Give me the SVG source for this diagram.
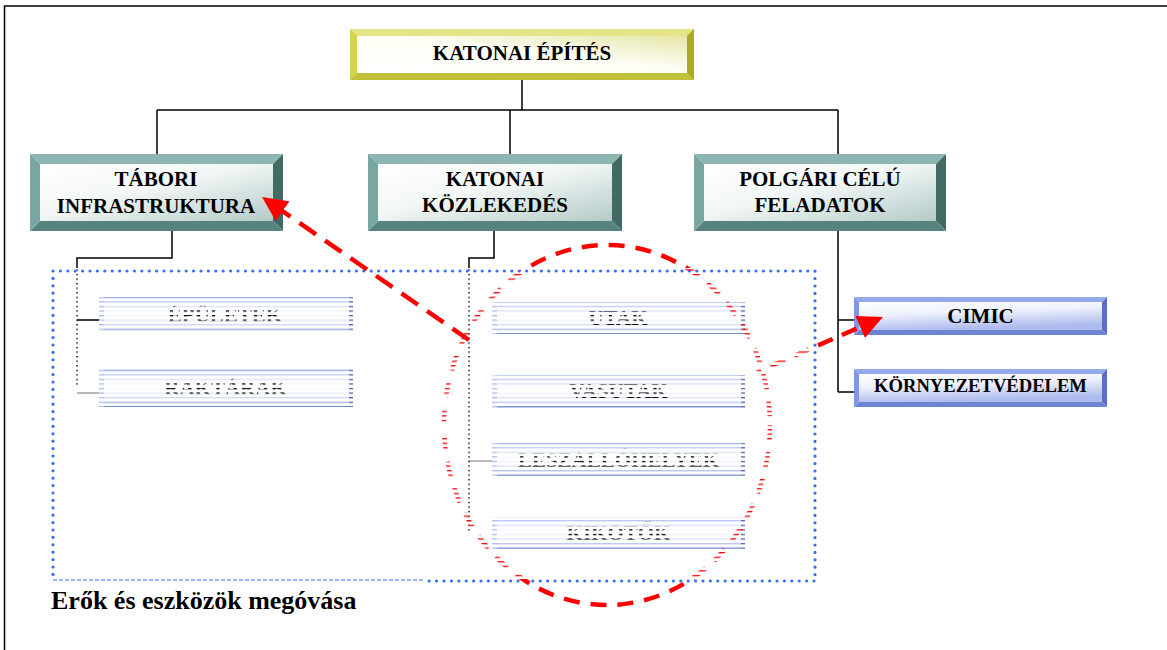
<svg xmlns="http://www.w3.org/2000/svg" width="1167" height="650" viewBox="0 0 1167 650">
  <defs>
    <style>
      .lbl{font-family:"Liberation Serif","Times New Roman",serif;font-weight:bold;font-size:21px;fill:#000;text-anchor:middle}
      .cap{font-family:"Liberation Serif","Times New Roman",serif;font-weight:bold;font-size:26px;fill:#000}
      .wire{stroke:#000;stroke-width:1.5;fill:none}
      .wire-g{stroke:#8a8a8a;stroke-width:1.2;fill:none}
      .y-top{fill:#e4e488}.y-left{fill:#d3d34e}.y-right{fill:#abab22}.y-bot{fill:#c2c23a}
      .t-top{fill:#8db5b1}.t-left{fill:#7aa6a1}.t-right{fill:#426b66}.t-bot{fill:#58827e}
      .b-top{fill:#93a9ec}.b-left{fill:#8098e2}.b-right{fill:#5a70c2}.b-bot{fill:#6c84d2}
      .redline{stroke:#ff0000;stroke-width:4.5;fill:none}
      .dots{stroke:#3b6cf3;stroke-width:3.2;stroke-linecap:round;stroke-dasharray:0 7.4;fill:none}
    </style>
    <linearGradient id="faceY" x1="0" y1="1" x2="1" y2="0">
      <stop offset="0" stop-color="#ffffff"/>
      <stop offset="0.55" stop-color="#fdfdf4"/>
      <stop offset="1" stop-color="#e6e6a8"/>
    </linearGradient>
    <linearGradient id="faceT" x1="0" y1="0" x2="1" y2="1">
      <stop offset="0" stop-color="#ffffff"/>
      <stop offset="0.45" stop-color="#f2f7f6"/>
      <stop offset="1" stop-color="#b3cbc8"/>
    </linearGradient>
    <linearGradient id="faceB" x1="0" y1="0" x2="0.3" y2="1">
      <stop offset="0" stop-color="#ffffff"/>
      <stop offset="0.45" stop-color="#eef1fc"/>
      <stop offset="1" stop-color="#aebbee"/>
    </linearGradient>
    <linearGradient id="rowFill" x1="0" y1="0" x2="0" y2="1">
      <stop offset="0" stop-color="#7696e0"/>
      <stop offset="0.12" stop-color="#b9c8f2"/>
      <stop offset="0.45" stop-color="#ffffff"/>
      <stop offset="0.8" stop-color="#c9d4f4"/>
      <stop offset="1" stop-color="#5875c6"/>
    </linearGradient>
    <!-- horizontal raster lines used for the lined panel area -->
    <pattern id="scan" patternUnits="userSpaceOnUse" x="0" y="296.7" width="1167" height="4.56">
      <rect x="0" y="0" width="1167" height="1.3" fill="#fff"/>
    </pattern>
    <mask id="lined" maskUnits="userSpaceOnUse" x="0" y="0" width="1167" height="650">
      <rect x="0" y="0" width="1167" height="650" fill="#fff"/>
      <rect x="53" y="268" width="762" height="311" fill="#000"/>
      <rect x="53" y="268" width="762" height="311" fill="url(#scan)"/>
    </mask>
    <marker id="head" markerUnits="userSpaceOnUse" markerWidth="26" markerHeight="24" refX="5" refY="12" orient="auto">
      <path d="M0,0 L25,12 L0,24 Z" fill="#ff0000"/>
    </marker>
  </defs>

  <rect width="1167" height="650" fill="#fff"/>

  <!-- page frame -->
  <g id="frame">
    <rect x="4.5" y="6" width="1170" height="660" fill="none" stroke="#000" stroke-width="1.5"/>
  </g>

  <!-- tree connectors -->
  <g id="connectors">
    <path class="wire" d="M522,80 V110 M157,110 H838 M157,110 V154 M510,110 V154 M838,110 V154"/>
    <path class="wire" d="M172,231 V258 H77 V268"/>
    <path class="wire" d="M494,231 V258 H469 V266"/>
    <path class="wire" d="M838,231 V392 M838,320 H854 M838,392 H854"/>
    <path class="wire" d="M77,320 H99"/>
    <path class="wire-g" d="M77,393 H99"/>
    <path class="wire-g" d="M469,461 H492"/>
    <g mask="url(#lined)">
      <path class="wire" d="M77,268 V388"/>
      <path class="wire" d="M469,266 V531"/>
    </g>
  </g>

  <!-- root -->
  <g id="node-katonai-epites">
    <rect x="350" y="29" width="344" height="51" class="y-left"/>
    <polygon class="y-top" points="350,29 694,29 687,36 357,36"/>
    <polygon class="y-right" points="694,29 694,80 687,73 687,36"/>
    <polygon class="y-bot" points="350,80 694,80 687,73 357,73"/>
    <polygon class="y-left" points="350,29 357,36 357,73 350,80"/>
    <rect x="357" y="36" width="330" height="37" fill="url(#faceY)"/>
    <text class="lbl" x="522" y="60">KATONAI ÉPÍTÉS</text>
  </g>

  <g id="node-tabori">
    <polygon class="t-top" points="30,154 283,154 273,164 40,164"/>
    <polygon class="t-right" points="283,154 283,231 273,221 273,164"/>
    <polygon class="t-bot" points="30,231 283,231 273,221 40,221"/>
    <polygon class="t-left" points="30,154 40,164 40,221 30,231"/>
    <rect x="40" y="164" width="233" height="57" fill="url(#faceT)"/>
    <text class="lbl" x="156" y="186">TÁBORI</text>
    <text class="lbl" x="156" y="213">INFRASTRUKTURA</text>
  </g>

  <g id="node-kozlekedes">
    <polygon class="t-top" points="368,154 622,154 612,164 378,164"/>
    <polygon class="t-right" points="622,154 622,231 612,221 612,164"/>
    <polygon class="t-bot" points="368,231 622,231 612,221 378,221"/>
    <polygon class="t-left" points="368,154 378,164 378,221 368,231"/>
    <rect x="378" y="164" width="234" height="57" fill="url(#faceT)"/>
    <text class="lbl" x="495" y="186">KATONAI</text>
    <text class="lbl" x="495" y="212">KÖZLEKEDÉS</text>
  </g>

  <g id="node-polgari">
    <polygon class="t-top" points="694,154 946,154 936,164 704,164"/>
    <polygon class="t-right" points="946,154 946,231 936,221 936,164"/>
    <polygon class="t-bot" points="694,231 946,231 936,221 704,221"/>
    <polygon class="t-left" points="694,154 704,164 704,221 694,231"/>
    <rect x="704" y="164" width="232" height="57" fill="url(#faceT)"/>
    <text class="lbl" x="820" y="186">POLGÁRI CÉLÚ</text>
    <text class="lbl" x="820" y="212">FELADATOK</text>
  </g>

  <g id="node-cimic">
    <polygon class="b-top" points="854,297 1107,297 1102,302 859,302"/>
    <polygon class="b-right" points="1107,297 1107,335 1102,330 1102,302"/>
    <polygon class="b-bot" points="854,335 1107,335 1102,330 859,330"/>
    <polygon class="b-left" points="854,297 859,302 859,330 854,335"/>
    <rect x="859" y="302" width="243" height="28" fill="url(#faceB)"/>
    <text class="lbl" x="980.5" y="323">CIMIC</text>
  </g>

  <g id="node-kornyezet">
    <polygon class="b-top" points="854,369 1107,369 1102,374 859,374"/>
    <polygon class="b-right" points="1107,369 1107,407 1102,402 1102,374"/>
    <polygon class="b-bot" points="854,407 1107,407 1102,402 859,402"/>
    <polygon class="b-left" points="854,369 859,374 859,402 854,407"/>
    <rect x="859" y="374" width="243" height="28" fill="url(#faceB)"/>
    <text class="lbl" x="980.5" y="392" style="font-size:18.6px">KÖRNYEZETVÉDELEM</text>
  </g>

  <!-- lined sub-items -->
  <g mask="url(#lined)">
    <g id="node-epuletek">
      <rect x="99" y="297" width="254" height="36" fill="url(#rowFill)"/>
      <rect x="99" y="297" width="5" height="36" fill="#a9bcef"/>
      <rect x="349" y="297" width="4" height="36" fill="#4a63b0"/>
      <text class="lbl" x="225" y="322">ÉPÜLETEK</text>
    </g>
    <g id="node-raktarak">
      <rect x="99" y="369" width="254" height="38" fill="url(#rowFill)"/>
      <rect x="99" y="369" width="5" height="38" fill="#a9bcef"/>
      <rect x="349" y="369" width="4" height="38" fill="#4a63b0"/>
      <text class="lbl" x="225.5" y="395">RAKTÁRAK</text>
    </g>
    <g id="node-utak">
      <rect x="492" y="302" width="253" height="32" fill="url(#rowFill)"/>
      <rect x="492" y="302" width="5" height="32" fill="#a9bcef"/>
      <rect x="741" y="302" width="4" height="32" fill="#4a63b0"/>
      <text class="lbl" x="618" y="324.5">UTAK</text>
    </g>
    <g id="node-vasutak">
      <rect x="492" y="375" width="253" height="33" fill="url(#rowFill)"/>
      <rect x="492" y="375" width="5" height="33" fill="#a9bcef"/>
      <rect x="741" y="375" width="4" height="33" fill="#4a63b0"/>
      <text class="lbl" x="618.5" y="398">VASUTAK</text>
    </g>
    <g id="node-leszallohelyek">
      <rect x="492" y="443" width="253" height="33" fill="url(#rowFill)"/>
      <rect x="492" y="443" width="5" height="33" fill="#a9bcef"/>
      <rect x="741" y="443" width="4" height="33" fill="#4a63b0"/>
      <text class="lbl" x="618.5" y="466.5">LESZÁLLÓHELYEK</text>
    </g>
    <g id="node-kikotok">
      <rect x="492" y="517" width="253" height="32" fill="url(#rowFill)"/>
      <rect x="492" y="517" width="5" height="32" fill="#a9bcef"/>
      <rect x="741" y="517" width="4" height="32" fill="#4a63b0"/>
      <text class="lbl" x="618.5" y="539.5">KIKÖTŐK</text>
    </g>
  </g>

  <!-- protected assets frame -->
  <g id="asset-frame">
    <path class="dots" d="M53,271 H815 V581 H425 M53,271 V575"/>
    <path d="M53,580 H425" stroke="#3b6cf3" stroke-width="1" stroke-dasharray="4 2" fill="none"/>
    <text class="cap" x="51" y="609">Erők és eszközök megóvása</text>
  </g>

  <!-- red highlight ellipse and arrows -->
  <g id="highlight">
    <g mask="url(#lined)">
      <ellipse class="redline" cx="607" cy="425" rx="163" ry="180" stroke-dasharray="16 11"/>
      <path class="redline" d="M757,372 L864.7,325" stroke-dasharray="16 10" stroke-dashoffset="11.4" marker-end="url(#head)"/>
    </g>
    <path class="redline" d="M469,340 L278.5,208.4" stroke-dasharray="20 11" marker-end="url(#head)"/>
  </g>
</svg>
